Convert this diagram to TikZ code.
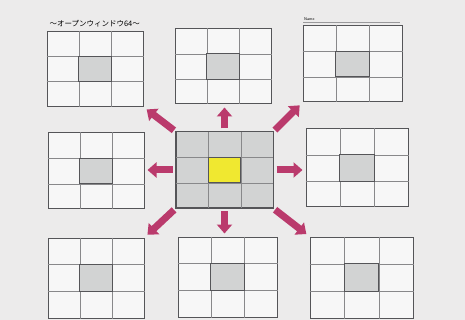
\documentclass[tikz,border=0pt]{standalone}
\usepackage{fontspec}
\newfontfamily\jpfont{Noto Sans CJK JP}
\usepackage{xcolor}
\usetikzlibrary{arrows.meta,calc}
\definecolor{paper}{RGB}{236,235,235}
\definecolor{gridgray}{RGB}{85,85,88}
\definecolor{cellgray}{RGB}{210,211,211}
\definecolor{centeryellow}{RGB}{240,232,48}
\definecolor{arrowpink}{RGB}{186,58,108}

\begin{document}
\begin{tikzpicture}[
    x=1pt, y=-1pt,
    grid/.style={rectangle, draw=gridgray, line width=1pt, fill=white!60!paper, minimum width=96pt, minimum height=75pt, inner sep=0pt},
    gridline/.style={draw=gridgray!70, line width=0.6pt},
    midcell/.style={draw=gridgray, line width=0.9pt, fill=cellgray},
    arrow/.style={arrowpink, line width=7pt, -{Triangle[width=15pt,length=9pt]}, shorten <=3pt, shorten >=3pt}
]

\fill[paper] (0,0) rectangle (465,320);

% title and name line
\node[font=\jpfont\fontsize{7.5}{8}\selectfont, anchor=west] (title) at (46,24) {～オープンウィンドウ64～};
\node[font=\sffamily\fontsize{4}{5}\selectfont, anchor=south west, inner sep=1pt] (name) at (303,22) {Name};
\draw[gridgray!60, line width=0.4pt] (name.south west) -- ++(97,0);

% the nine windows
\node[grid] (tl) at (95,69) {};
\node[grid] (tm) at (223,66.5) {};
\node[grid, minimum width=99pt, minimum height=76pt] (tr) at (352.5,64) {};
\node[grid, minimum height=76pt] (ml) at (96,171) {};
\node[grid, fill=cellgray, minimum width=97pt, minimum height=76pt] (c) at (224.5,170) {};
\node[grid, minimum width=102pt, minimum height=78pt] (mr) at (357,168) {};
\node[grid, minimum height=80pt] (bl) at (96,278) {};
\node[grid, minimum width=99pt, minimum height=80pt] (bm) at (227.5,277) {};
\node[grid, minimum width=103pt, minimum height=81pt] (br) at (361.5,277.5) {};

\foreach \g in {tl,tm,tr,ml,c,mr,bl,bm,br} {
    \draw[gridline] ($(\g.north west)!1/3!(\g.north east)$) -- ($(\g.south west)!1/3!(\g.south east)$);
    \draw[gridline] ($(\g.north west)!2/3!(\g.north east)$) -- ($(\g.south west)!2/3!(\g.south east)$);
    \draw[gridline] ($(\g.north west)!1/3!(\g.south west)$) -- ($(\g.north east)!1/3!(\g.south east)$);
    \draw[gridline] ($(\g.north west)!2/3!(\g.south west)$) -- ($(\g.north east)!2/3!(\g.south east)$);
}
\foreach \g in {tl,tm,tr,ml,mr,bl,bm,br} {
    \draw[midcell] ($(\g.north west)!1/3!(\g.south east)$) rectangle ($(\g.north west)!2/3!(\g.south east)$);
}
\draw[midcell, fill=centeryellow] ($(c.north west)!1/3!(c.south east)$) rectangle ($(c.north west)!2/3!(c.south east)$);
\draw[grid, fill=none] (c.north west) rectangle (c.south east);

% arrows out of the middle window
\draw[arrow] (c.north) -- (c.north |- tm.south);
\draw[arrow] (c.south) -- (c.south |- bm.north);
\draw[arrow] (c.west) -- (c.west -| ml.east);
\draw[arrow] (c.east) -- (c.east -| mr.west);
\draw[arrow, shorten <=2pt, shorten >=4pt] (c.north west) -- (tl.south east);
\draw[arrow, shorten <=2pt, shorten >=4pt] (c.north east) -- (tr.south west);
\draw[arrow, shorten <=2pt, shorten >=4pt] (c.south west) -- (bl.north east);
\draw[arrow, shorten <=2pt, shorten >=4pt] (c.south east) -- (br.north west);

\end{tikzpicture}
\end{document}
